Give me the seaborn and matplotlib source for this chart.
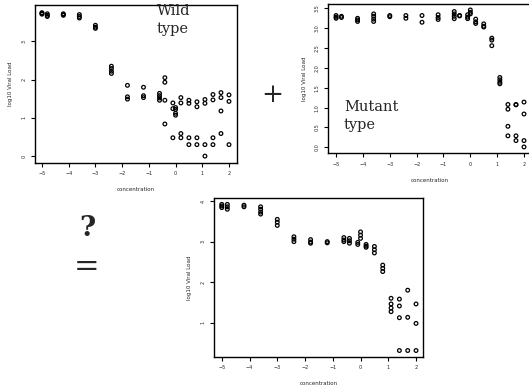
import matplotlib
matplotlib.use('Agg')
import matplotlib.pyplot as plt
import seaborn as sns
import pandas as pd

# concentrations (log scale) and the replicate viral loads
wild_conc = [-5, -4.8, -4.2, -3.6, -3, -2.4, -1.8, -1.2, -0.6, -0.4, -0.1, 0,
             0.2, 0.5, 0.8, 1.1, 1.4, 1.7, 2]
wild_load = [
    [3.75, 3.73, 3.71], [3.72, 3.68, 3.65], [3.72, 3.70, 3.68],
    [3.70, 3.65, 3.61], [3.42, 3.37, 3.34], [2.35, 2.29, 2.22, 2.16],
    [1.85, 1.55, 1.49], [1.80, 1.58, 1.53], [1.64, 1.58, 1.52, 1.46],
    [2.05, 1.93, 1.46, 0.84], [1.39, 1.24, 0.48], [1.27, 1.22, 1.12, 1.07],
    [1.53, 1.39, 0.59, 0.48], [1.46, 1.38, 0.48, 0.30], [1.42, 1.29, 0.48, 0.30],
    [1.48, 1.38, 0.30, 0.0], [1.61, 1.47, 0.48, 0.30], [1.66, 1.53, 1.18, 0.59],
    [1.60, 1.43, 0.30],
]

mut_conc = wild_conc
mut_load = [
    [3.32, 3.28, 3.25], [3.30, 3.27], [3.25, 3.21, 3.17],
    [3.36, 3.30, 3.23, 3.17], [3.32, 3.29], [3.32, 3.25],
    [3.32, 3.15], [3.34, 3.27, 3.22], [3.42, 3.36, 3.30, 3.24],
    [3.32, 3.31], [3.34, 3.28, 3.24], [3.46, 3.40, 3.36],
    [3.23, 3.16, 3.12], [3.11, 3.05, 3.03], [2.75, 2.70, 2.56],
    [1.76, 1.70, 1.64, 1.60], [1.08, 0.96, 0.53, 0.29], [1.08, 1.07, 0.29, 0.17],
    [1.14, 0.84, 0.17, 0.01],
]

mix_conc = wild_conc
mix_load = [
    [3.92, 3.88, 3.84], [3.92, 3.86, 3.80], [3.90, 3.86],
    [3.86, 3.80, 3.73, 3.68], [3.55, 3.48, 3.40], [3.12, 3.06, 3.00],
    [3.05, 2.99, 2.96], [3.00, 2.97], [3.10, 3.04, 3.00],
    [3.08, 3.02, 2.96], [2.98, 2.93], [3.24, 3.16, 3.08],
    [2.93, 2.89, 2.86], [2.88, 2.80, 2.72], [2.42, 2.34, 2.26],
    [1.60, 1.46, 1.36, 1.27], [1.58, 1.41, 1.12, 0.31], [1.80, 1.13, 0.31],
    [1.46, 0.98, 0.31],
]


def to_frame(conc, loads):
    rows = [(c, v) for c, vals in zip(conc, loads) for v in vals]
    return pd.DataFrame(rows, columns=['concentration', 'load'])


sns.set_style('white')
plt.rcParams['font.family'] = ['DejaVu Sans']

fig = plt.figure(figsize=(5.29, 3.85), dpi=100)
W, H = 529.0, 385.0


def make_ax(left, top, right, bottom):
    return fig.add_axes([left / W, 1 - bottom / H, (right - left) / W, (bottom - top) / H])


def panel(ax, df, xlim, ylim, yticks, ytlabels):
    sns.scatterplot(data=df, x='concentration', y='load', ax=ax, marker='o',
                    s=7, facecolor='none', edgecolor='black', linewidth=0.9,
                    legend=False)
    ax.set_xlim(*xlim)
    ax.set_ylim(*ylim)
    ax.set_xticks(range(-5, 3))
    ax.set_xticklabels(['\u22125', '\u22124', '\u22123', '\u22122', '\u22121', '0', '1', '2'])
    ax.set_yticks(yticks)
    ax.set_yticklabels(ytlabels, rotation=90, va='center')
    ax.tick_params(direction='out', length=3, width=0.8, labelsize=3.5, pad=3,
                   left=True, bottom=True, color='black')
    for s in ax.spines.values():
        s.set_color('black')
        s.set_linewidth(1.0)
    ax.set_xlabel('concentration', fontsize=4, labelpad=8)
    ax.set_ylabel('log10 Viral Load', fontsize=4, labelpad=6)


ax1 = make_ax(35, 5, 237, 163)
panel(ax1, to_frame(wild_conc, wild_load), (-5.26, 2.3), (-0.18, 3.95),
      [0, 1, 2, 3], ['0', '1', '2', '3'])
fig.text(157 / W, 1 - 4 / H, 'Wild\ntype', family='DejaVu Serif', fontsize=10.5,
         va='top', ha='left', linespacing=1.35)

ax2 = make_ax(328.3, 4, 531, 153.3)
panel(ax2, to_frame(mut_conc, mut_load), (-5.29, 2.26), (-0.15, 3.61),
      [0, 0.5, 1, 1.5, 2, 2.5, 3, 3.5],
      ['0.0', '0.5', '1.0', '1.5', '2.0', '2.5', '3.0', '3.5'])
fig.text(344 / W, 1 - 100 / H, 'Mutant\ntype', family='DejaVu Serif', fontsize=10.5,
         va='top', ha='left', linespacing=1.35)

ax3 = make_ax(214, 198.3, 422.7, 357)
panel(ax3, to_frame(mix_conc, mix_load), (-5.28, 2.24), (0.15, 4.07),
      [1, 2, 3, 4], ['1', '2', '3', '4'])

fig.text(272 / W, 1 - 95 / H, '+', family='DejaVu Serif', fontsize=19,
         ha='center', va='center')
fig.text(87 / W, 1 - 229 / H, '?', family='DejaVu Serif', fontsize=20,
         fontweight='bold', ha='center', va='center')
fig.text(87 / W, 1 - 268 / H, '=', family='DejaVu Serif', fontsize=22,
         ha='center', va='center')

fig.savefig('out.png', dpi=100)
